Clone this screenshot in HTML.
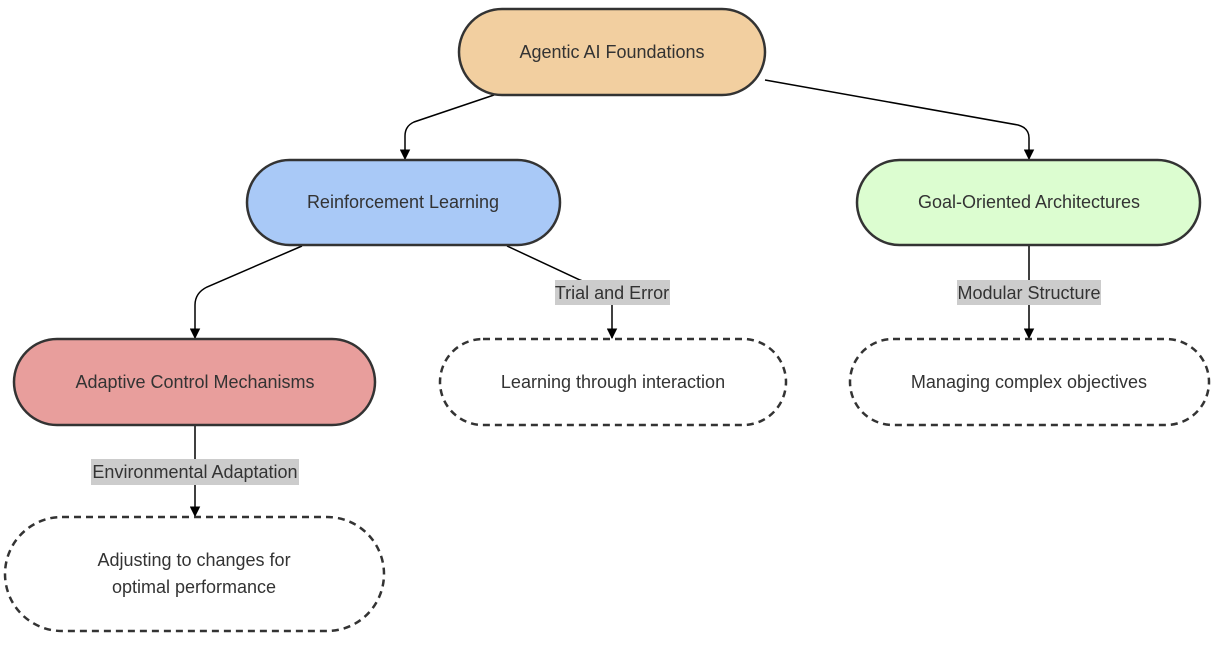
<!DOCTYPE html>
<html><head><meta charset="utf-8"><style>
html,body{margin:0;padding:0;background:#fff;}
svg text{font-family:"Liberation Sans",Arial,sans-serif;font-size:18px;fill:#333;}
</style></head><body>
<svg width="1214" height="645" viewBox="0 0 1214 645" xmlns="http://www.w3.org/2000/svg">
<defs><marker id="a" viewBox="0 0 10 10" refX="9" refY="5" markerWidth="7" markerHeight="7" orient="auto"><path d="M0,0L10,5L0,10z" fill="#000"/></marker></defs>
<g fill="none" stroke="#000" stroke-width="1.5">
<path d="M494,95 L414,122 Q405,126 405,136 L405,159" marker-end="url(#a)"/>
<path d="M765,80 L1018,125 Q1029,128 1029,138 L1029,159" marker-end="url(#a)"/>
<path d="M302,246 L207,287 Q195,293 195,305 L195,338" marker-end="url(#a)"/>
<path d="M507,246 L580,280 L612,293 L612,338" marker-end="url(#a)"/>
<path d="M1029,245 L1029,338" marker-end="url(#a)"/>
<path d="M195,425 L195,516" marker-end="url(#a)"/>
</g>
<g stroke="#333" stroke-width="2.5">
<rect x="459" y="9" width="306" height="86" rx="43" fill="#f2cfa0"/>
<rect x="247" y="160" width="313" height="85" rx="42.5" fill="#a9c9f7"/>
<rect x="857" y="160" width="343" height="85" rx="42.5" fill="#dcfdd0"/>
<rect x="14" y="339" width="361" height="86" rx="43" fill="#e89e9c"/>
<g fill="#fff" stroke-dasharray="7,5">
<rect x="440" y="339" width="346" height="86" rx="43"/>
<rect x="850" y="339" width="359" height="86" rx="43"/>
<rect x="5" y="517" width="379" height="114" rx="57"/>
</g>
</g>
<g fill="#ccc">
<rect x="555" y="280" width="115" height="25"/>
<rect x="957" y="280" width="144" height="25"/>
<rect x="91" y="459" width="208" height="26"/>
</g>
<g text-anchor="middle">
<text x="612" y="58">Agentic AI Foundations</text>
<text x="403" y="208">Reinforcement Learning</text>
<text x="1029" y="208">Goal-Oriented Architectures</text>
<text x="195" y="388">Adaptive Control Mechanisms</text>
<text x="613" y="388">Learning through interaction</text>
<text x="1029" y="388">Managing complex objectives</text>
<text x="194" y="566">Adjusting to changes for</text>
<text x="194" y="593">optimal performance</text>
<text x="612" y="299">Trial and Error</text>
<text x="1029" y="299">Modular Structure</text>
<text x="195" y="478">Environmental Adaptation</text>
</g>
</svg>
</body></html>
